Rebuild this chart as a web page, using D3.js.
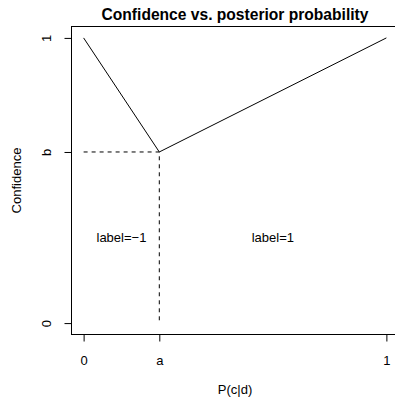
<!DOCTYPE html>
<html lang="en">
<head>
    <meta charset="UTF-8" />
    <title>Confidence vs. posterior probability</title>
    <script src="https://d3js.org/d3.v7.min.js"></script>
    <style>
        body {
            margin: 0;
            background: #fff;
        }
        svg {
            display: block;
            font-family: "Liberation Sans", Arial, sans-serif;
        }
        .axis path {
            display: none;
        }
        .axis line {
            stroke: #000;
        }
        .axis text {
            font-size: 13px;
            fill: #000;
        }
    </style>
</head>
<body>
    <svg id="chart" width="395" height="398"></svg>

    <script>
        // values (a and b are symbolic points)
        const a = 0.25;
        const b = 0.6;
        const curveX = [0, a, 1];
        const curveY = [1, b, 1];
        const xTickValues = [0, a, 1];
        const xTickLabels = ["0", "a", "1"];
        const yTickValues = [0, b, 1];
        const yTickLabels = ["0", "b", "1"];
        const regionText = ["label=\u22121", "label=1"];
        const regionX = [a / 2, (a + 1) / 2];
        const regionY = [b / 2, b / 2];

        const svg = d3.select("#chart");

        // plot region (right edge falls just outside the picture)
        const plotLeft = 71.5, plotRight = 398.5, plotTop = 26.5, plotBottom = 334.5;

        // R style 4% extension around the data range
        const x = d3.scaleLinear().domain([-0.04, 1.04]).range([plotLeft, plotRight]);
        const y = d3.scaleLinear().domain([-0.04, 1.04]).range([plotBottom, plotTop]);

        // box
        svg.append("rect")
            .attr("x", plotLeft)
            .attr("y", plotTop)
            .attr("width", plotRight - plotLeft)
            .attr("height", plotBottom - plotTop)
            .attr("fill", "none")
            .attr("stroke", "#000");

        // x axis
        svg.append("g")
            .attr("class", "axis")
            .attr("transform", `translate(0,${plotBottom})`)
            .call(d3.axisBottom(x)
                .tickValues(xTickValues)
                .tickFormat((d, i) => xTickLabels[i])
                .tickSize(7)
                .tickPadding(14));

        // y axis with rotated labels
        const yAxis = svg.append("g")
            .attr("class", "axis")
            .attr("transform", `translate(${plotLeft},0)`)
            .call(d3.axisLeft(y)
                .tickValues(yTickValues)
                .tickFormat((d, i) => yTickLabels[i])
                .tickSize(7));

        yAxis.selectAll(".tick text")
            .attr("x", null)
            .attr("dy", null)
            .attr("text-anchor", "middle")
            .attr("transform", "translate(-21,0) rotate(-90)");

        // dashed guides to (a, b)
        svg.append("path")
            .attr("d", d3.line()([[x(0), y(b)], [x(a), y(b)], [x(a), y(0)]]))
            .attr("fill", "none")
            .attr("stroke", "#000")
            .attr("stroke-dasharray", "4,4");

        // confidence curve
        const line = d3.line()
            .x((d, i) => x(curveX[i]))
            .y(d => y(d));

        svg.append("path")
            .datum(curveY)
            .attr("d", line)
            .attr("fill", "none")
            .attr("stroke", "#000");

        // region labels
        svg.selectAll(".region")
            .data(regionText)
            .enter()
            .append("text")
            .attr("class", "region")
            .attr("x", (d, i) => x(regionX[i]))
            .attr("y", (d, i) => y(regionY[i]))
            .attr("dy", "0.35em")
            .attr("text-anchor", "middle")
            .attr("font-size", "13px")
            .text(d => d);

        // title and axis titles
        svg.append("text")
            .attr("x", (plotLeft + plotRight) / 2)
            .attr("y", 20)
            .attr("text-anchor", "middle")
            .attr("font-size", "15.6px")
            .attr("font-weight", "bold")
            .text("Confidence vs. posterior probability");

        svg.append("text")
            .attr("x", (plotLeft + plotRight) / 2)
            .attr("y", 394)
            .attr("text-anchor", "middle")
            .attr("font-size", "13px")
            .text("P(c|d)");

        svg.append("text")
            .attr("transform", `translate(21,${(plotTop + plotBottom) / 2}) rotate(-90)`)
            .attr("text-anchor", "middle")
            .attr("font-size", "13px")
            .text("Confidence");
    </script>
</body>
</html>
